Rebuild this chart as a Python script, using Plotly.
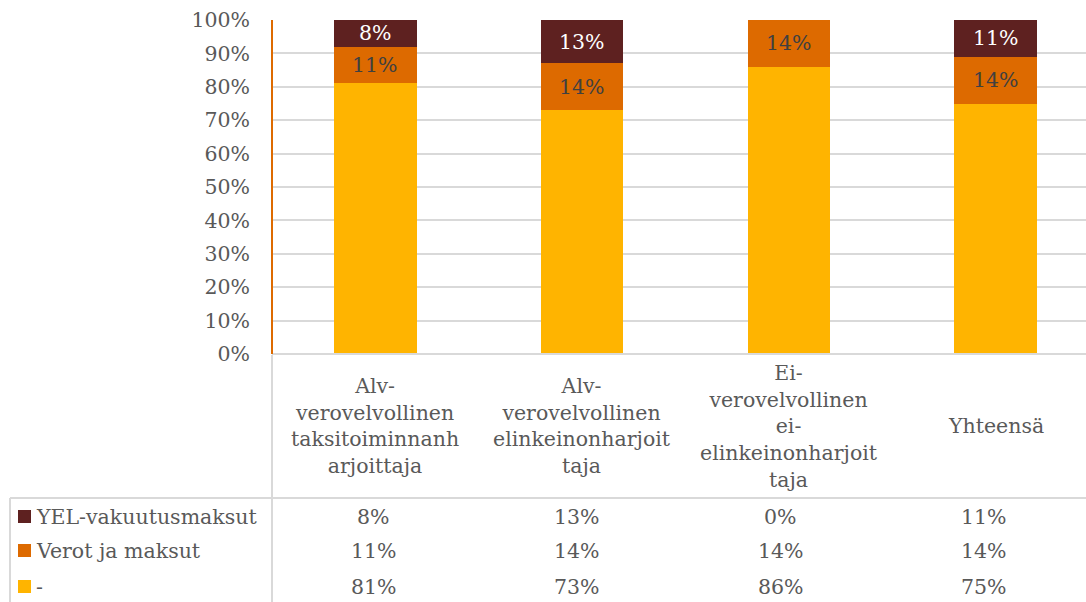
import plotly.graph_objects as go

categories = [
    "Alv-<br>verovelvollinen<br>taksitoiminnanh<br>arjoittaja",
    "Alv-<br>verovelvollinen<br>elinkeinonharjoit<br>taja",
    "Ei-<br>verovelvollinen<br>ei-<br>elinkeinonharjoit<br>taja",
    "Yhteensä",
]
series_names = ["YEL-vakuutusmaksut", "Verot ja maksut", "-"]
yel = [8, 13, 0, 11]
verot = [11, 14, 14, 14]
muu = [81, 73, 86, 75]
colors = {"YEL-vakuutusmaksut": "#5E2120", "Verot ja maksut": "#DD6A00", "-": "#FFB400"}
y_ticks = list(range(0, 101, 10))

FONT = "DejaVu Serif"
FS = 20.5
GRAY = "#595959"
W, H = 1086, 602
L, R, T, B = 272, 0, 20, 248
PW = W - L - R
PH = H - T - B


def px_x(px):
    return (px - L) / PW


def px_y(py):
    return (H - B - py) / PH


xs = list(range(len(categories)))
fig = go.Figure()
for name, vals in [("-", muu), ("Verot ja maksut", verot), ("YEL-vakuutusmaksut", yel)]:
    fig.add_trace(go.Bar(x=xs, y=vals, name=name,
                         marker=dict(color=colors[name], line=dict(width=0)),
                         textposition="none", hoverinfo="skip"))

fig.update_layout(
    width=W, height=H, barmode="stack", bargap=0.6,
    margin=dict(l=L, r=R, t=T, b=B),
    paper_bgcolor="white", plot_bgcolor="white",
    showlegend=False,
    font=dict(family=FONT, color=GRAY, size=FS),
)
fig.update_xaxes(range=[-0.5, 3.437], showticklabels=False, showgrid=False,
                 zeroline=False, showline=False, fixedrange=True)
fig.update_yaxes(range=[0, 100], tickvals=y_ticks, ticktext=[f"{v}%" for v in y_ticks],
                 showgrid=True, gridcolor="#D9D9D9", gridwidth=1.5, zeroline=False,
                 showline=False, ticks="", ticklabelstandoff=21,
                 tickfont=dict(family=FONT, size=FS, color=GRAY))

shapes = []
shapes.append(dict(type="line", xref="paper", yref="paper", x0=0, x1=1, y0=0, y1=0,
                   line=dict(color="#D9D9D9", width=2)))
shapes.append(dict(type="line", xref="paper", yref="paper", x0=0, x1=0, y0=0, y1=1,
                   line=dict(color="#DD6A00", width=2)))
shapes.append(dict(type="line", xref="paper", yref="paper", x0=0, x1=0,
                   y0=px_y(355), y1=px_y(602), line=dict(color="#D9D9D9", width=2)))
shapes.append(dict(type="line", xref="paper", yref="paper", x0=px_x(10), x1=1,
                   y0=px_y(498), y1=px_y(498), line=dict(color="#D9D9D9", width=2)))
shapes.append(dict(type="line", xref="paper", yref="paper", x0=px_x(10), x1=px_x(10),
                   y0=px_y(498), y1=px_y(602), line=dict(color="#D9D9D9", width=2)))

annotations = []
# data labels inside segments
for i in xs:
    base = muu[i]
    if verot[i] > 0:
        annotations.append(dict(x=i, xref="x", y=base + verot[i] / 2, yref="y",
                                text=f"{verot[i]}%", showarrow=False, xanchor="center",
                                yanchor="middle",
                                font=dict(family=FONT, size=FS, color="#404040")))
    base += verot[i]
    if yel[i] > 0:
        annotations.append(dict(x=i, xref="x", y=base + yel[i] / 2, yref="y",
                                text=f"{yel[i]}%", showarrow=False, xanchor="center",
                                yanchor="middle",
                                font=dict(family=FONT, size=FS, color="white")))

for i, c in enumerate(categories):
    annotations.append(dict(x=i, xref="x", y=px_y(426), yref="paper", text=c, showarrow=False,
                            xanchor="center", yanchor="middle", align="center",
                            font=dict(family=FONT, size=FS, color=GRAY)))

row_y = [517, 551, 587]
row_vals = [yel, verot, muu]
ncol = len(categories)
for name, ry, vals in zip(series_names, row_y, row_vals):
    shapes.append(dict(type="rect", xref="paper", yref="paper", x0=px_x(18), x1=px_x(31),
                       y0=px_y(ry + 6), y1=px_y(ry - 7), fillcolor=colors[name],
                       line=dict(width=0)))
    annotations.append(dict(x=px_x(34), xref="paper", y=px_y(ry), yref="paper", text=name,
                            showarrow=False, xanchor="left", yanchor="middle",
                            font=dict(family=FONT, size=FS, color=GRAY)))
    for i, v in enumerate(vals):
        annotations.append(dict(x=(i + 0.5) / ncol, xref="paper", y=px_y(ry), yref="paper",
                                text=f"{v}%", showarrow=False, xanchor="center",
                                yanchor="middle", font=dict(family=FONT, size=FS, color=GRAY)))

fig.update_layout(shapes=shapes, annotations=annotations)
fig.write_html("out.html", config={"displayModeBar": False},
               post_script="document.body.style.margin='0';")
